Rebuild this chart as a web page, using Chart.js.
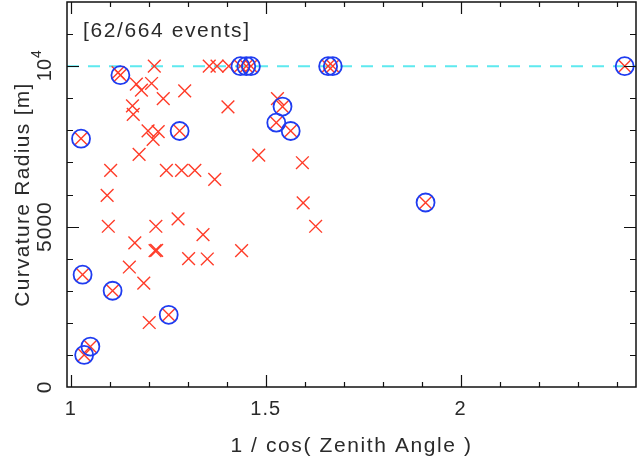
<!DOCTYPE html>
<html>
<head>
<meta charset="utf-8">
<script src="https://cdn.jsdelivr.net/npm/chart.js@4.4.1/dist/chart.umd.min.js"></script>
<style>
  html, body { margin: 0; padding: 0; background: #fff; }
  #wrap { width: 637px; height: 461px; }
</style>
</head>
<body>
<div id="wrap"><canvas id="zenithChart"></canvas></div>
<script>
// events that get a blue ring
const circledSec = [1.026, 1.127, 1.030, 1.107, 1.034, 1.050, 1.279, 1.251, 1.435, 1.450, 1.462,
  1.527, 1.543, 1.564, 1.660, 1.672, 1.910, 2.421];
const circledRadius = [7740, 9720, 3500, 3000, 1000, 1260, 7980, 2250, 10000, 10000, 10000,
  8240, 8740, 7980, 10000, 10000, 5750, 10000];

// the rest of the selected events
const otherSec = [1.121, 1.214, 1.168, 1.181, 1.207, 1.237, 1.292, 1.158, 1.160, 1.198, 1.224,
  1.211, 1.175, 1.102, 1.245, 1.284, 1.318, 1.355, 1.375, 1.405, 1.403, 1.530, 1.482, 1.594,
  1.369, 1.093, 1.096, 1.218, 1.275, 1.164, 1.216, 1.220, 1.302, 1.150, 1.187, 1.201, 1.596,
  1.339, 1.438, 1.350, 1.628];
const otherRadius = [9800, 10000, 9440, 9250, 9460, 8990, 9230, 8760, 8500, 7980, 7960,
  7720, 7250, 6750, 6750, 6750, 6750, 10000, 10000, 10000, 8730, 8990, 7230, 6990,
  6470, 5970, 5010, 5010, 5240, 4490, 4250, 4260, 4000, 3740, 3240, 2010, 5740,
  4750, 4250, 3990, 5010];

const radiusCap = 10000;
const xRange = [0.99, 2.45];
const yRange = [0, 12000];
const xTickValues = [1, 1.5, 2];
const xTickLabels = ['1', '1.5', '2'];
const yTickValues = [0, 5000, 10000];
const yTickLabels = ['0', '5000', '10|4'];   // "a|b" -> a with superscript b
const eventLabel = '[62/664 events]';
const xTitle = '1 / cos( Zenith Angle )';
const yTitle = 'Curvature Radius [m]';

const FONT = '"Liberation Sans", Arial, sans-serif';
const INK = '#2a2a2a';

const toPoints = (xs, ys) => xs.map((x, i) => ({ x: x, y: ys[i] }));

function spacedText(ctx, text, x, y, spacing) {
  ctx.letterSpacing = spacing + 'px';
  ctx.fillText(text, x, y);
  ctx.letterSpacing = '0px';
}

// frame with inward ticks on all four sides, plus all the text
const paperFrame = {
  id: 'paperFrame',
  afterDatasetsDraw(chart) {
    const { ctx, chartArea: a, scales } = chart;
    const xs = scales.x, ys = scales.y;
    ctx.save();
    ctx.strokeStyle = '#111';
    ctx.lineWidth = 1.5;
    ctx.strokeRect(a.left, a.top, a.right - a.left, a.bottom - a.top);

    ctx.lineWidth = 1.2;
    ctx.beginPath();
    xs.ticks.forEach(t => {
      const px = Math.round(xs.getPixelForValue(t.value)) + 0.5;
      const len = Math.abs(t.value * 2 - Math.round(t.value * 2)) < 1e-6 ? 12 : 5;
      ctx.moveTo(px, a.bottom); ctx.lineTo(px, a.bottom - len);
      ctx.moveTo(px, a.top); ctx.lineTo(px, a.top + len);
    });
    ys.ticks.forEach(t => {
      if (t.value <= yRange[0] || t.value >= yRange[1]) return;
      const py = Math.round(ys.getPixelForValue(t.value)) + 0.5;
      const len = t.value % 5000 === 0 ? 12 : 6;
      ctx.moveTo(a.left, py); ctx.lineTo(a.left + len, py);
      ctx.moveTo(a.right, py); ctx.lineTo(a.right - len, py);
    });
    ctx.stroke();

    ctx.fillStyle = INK;
    ctx.font = '20px ' + FONT;
    ctx.textAlign = 'center';
    ctx.textBaseline = 'alphabetic';
    xTickValues.forEach((v, i) => {
      spacedText(ctx, xTickLabels[i], xs.getPixelForValue(v), a.bottom + 28, 1);
    });
    ctx.font = '21px ' + FONT;
    spacedText(ctx, xTitle, (a.left + a.right) / 2, a.bottom + 65, 1.6);

    // y tick labels, rotated
    yTickValues.forEach((v, i) => {
      const py = ys.getPixelForValue(v);
      ctx.save();
      ctx.translate(a.left - 16, py);
      ctx.rotate(-Math.PI / 2);
      const parts = yTickLabels[i].split('|');
      if (parts.length === 2) {
        ctx.font = '20px ' + FONT;
        const wBase = ctx.measureText(parts[0]).width;
        ctx.font = '14px ' + FONT;
        const wExp = ctx.measureText(parts[1]).width;
        const x0 = -(wBase + wExp) / 2;
        ctx.textAlign = 'left';
        ctx.font = '20px ' + FONT;
        ctx.fillText(parts[0], x0, 0);
        ctx.font = '14px ' + FONT;
        ctx.fillText(parts[1], x0 + wBase + 1, -10);
      } else {
        spacedText(ctx, parts[0], 0, 0, 1);
      }
      ctx.restore();
    });

    ctx.save();
    ctx.font = '21px ' + FONT;
    ctx.translate(a.left - 38, (a.top + a.bottom) / 2);
    ctx.rotate(-Math.PI / 2);
    spacedText(ctx, yTitle, 0, 0, 1.3);
    ctx.restore();

    ctx.font = '21px ' + FONT;
    ctx.textAlign = 'left';
    spacedText(ctx, eventLabel, a.left + 16, a.top + 35, 1.6);
    ctx.restore();
  }
};

new Chart(document.getElementById('zenithChart'), {
  type: 'scatter',
  data: {
    datasets: [
      {
        label: 'ringed',
        data: toPoints(circledSec, circledRadius),
        pointStyle: 'circle',
        pointRadius: 9,
        pointHoverRadius: 9,
        pointBorderWidth: 1.8,
        borderColor: '#1f3cf0',
        backgroundColor: 'rgba(0,0,0,0)',
        order: 0,
        clip: false
      },
      {
        label: 'events',
        data: toPoints(otherSec.concat(circledSec), otherRadius.concat(circledRadius)),
        pointStyle: 'crossRot',
        pointRadius: 9,
        pointHoverRadius: 9,
        pointBorderWidth: 1.4,
        borderColor: '#ff3b28',
        backgroundColor: '#ff3b28',
        order: 1,
        clip: false
      },
      {
        type: 'line',
        label: 'cap',
        data: [{ x: xRange[0], y: radiusCap }, { x: xRange[1], y: radiusCap }],
        borderColor: '#5ee9ef',
        borderWidth: 2,
        borderDash: [12, 9],
        pointRadius: 0,
        showLine: true,
        order: 2
      }
    ]
  },
  options: {
    responsive: true,
    maintainAspectRatio: false,
    animation: false,
    layout: { autoPadding: false, padding: { left: 67, right: 1, top: 2, bottom: 74 } },
    plugins: { legend: { display: false }, tooltip: { enabled: false } },
    scales: {
      x: {
        type: 'linear', display: false, min: xRange[0], max: xRange[1],
        ticks: { stepSize: 0.1, includeBounds: false }
      },
      y: {
        type: 'linear', display: false, min: yRange[0], max: yRange[1],
        ticks: { stepSize: 1000 }
      }
    }
  },
  plugins: [paperFrame]
});
</script>
</body>
</html>
